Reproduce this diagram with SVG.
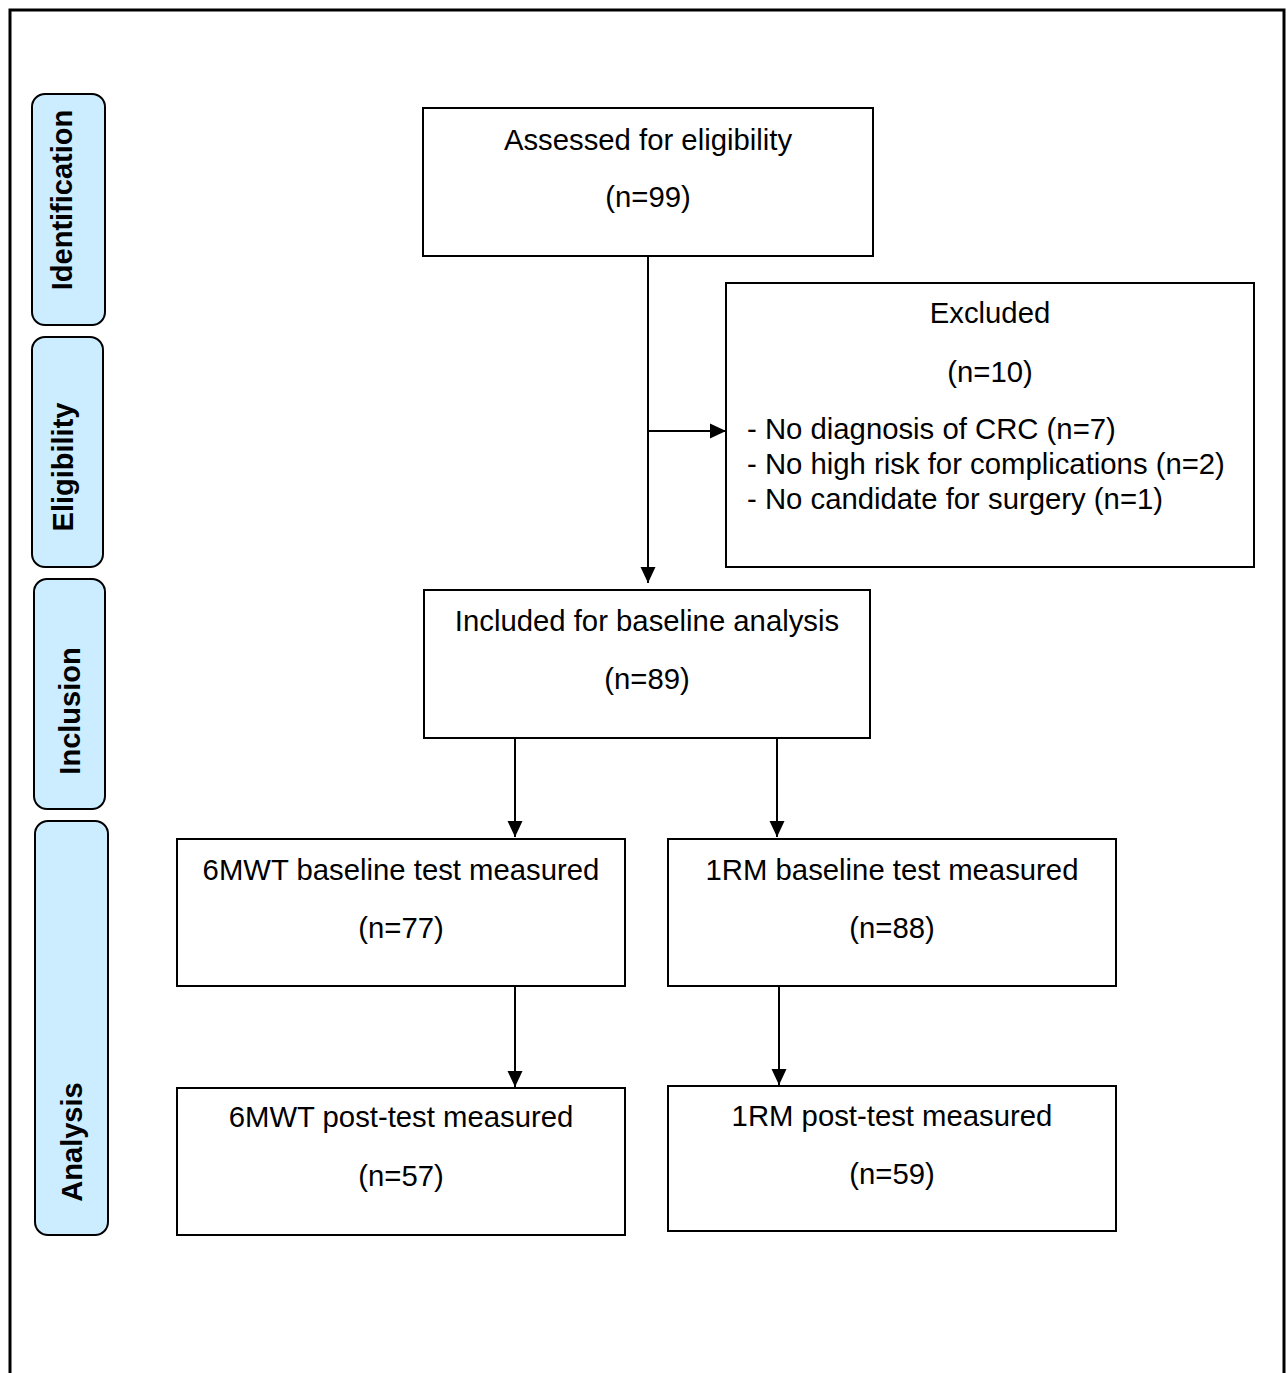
<svg xmlns="http://www.w3.org/2000/svg" width="1287" height="1373" viewBox="0 0 1287 1373">
<style>
.frame{fill:none;stroke:#000;stroke-width:3}
.box{fill:#fff;stroke:#000;stroke-width:2}
.side{fill:#CCECFF;stroke:#000;stroke-width:2}
.t{font-family:"Liberation Sans",Arial,sans-serif;font-size:29.3px;fill:#000}
.c{text-anchor:middle}
.s{font-family:"Liberation Sans",Arial,sans-serif;font-size:29px;font-weight:bold;fill:#000;text-anchor:middle}
.conn{fill:none;stroke:#000;stroke-width:2}
</style>
<defs>
<marker id="ah" markerUnits="userSpaceOnUse" markerWidth="16" markerHeight="16" viewBox="0 0 16 16" refX="16" refY="8" orient="auto">
<path d="M0,0.5 L16,8 L0,15.5 Z" fill="#000"/>
</marker>
</defs>
<rect width="1287" height="1373" fill="#fff"/>
<path class="frame" d="M10,1373 V10 H1284 V1373"/>

<g id="side-identification">
<rect class="side" x="32" y="94" width="73" height="231" rx="13"/>
<text class="s" transform="translate(72,200) rotate(-90)">Identification</text>
</g>
<g id="side-eligibility">
<rect class="side" x="32" y="337" width="71" height="230" rx="13"/>
<text class="s" transform="translate(73,467) rotate(-90)">Eligibility</text>
</g>
<g id="side-inclusion">
<rect class="side" x="34" y="579" width="71" height="230" rx="13"/>
<text class="s" transform="translate(80,711) rotate(-90)">Inclusion</text>
</g>
<g id="side-analysis">
<rect class="side" x="35" y="821" width="73" height="414" rx="13"/>
<text class="s" transform="translate(82,1142) rotate(-90)">Analysis</text>
</g>

<g id="assessed">
<rect class="box" x="423" y="108" width="450" height="148"/>
<text class="t c" x="648" y="150">Assessed for eligibility</text>
<text class="t c" x="648" y="207">(n=99)</text>
</g>
<g id="excluded">
<rect class="box" x="726" y="283" width="528" height="284"/>
<text class="t c" x="990" y="323">Excluded</text>
<text class="t c" x="990" y="382">(n=10)</text>
<text class="t" x="747" y="439">- No diagnosis of CRC (n=7)</text>
<text class="t" x="747" y="474">- No high risk for complications (n=2)</text>
<text class="t" x="747" y="509">- No candidate for surgery (n=1)</text>
</g>
<g id="included">
<rect class="box" x="424" y="590" width="446" height="148"/>
<text class="t c" x="647" y="631">Included for baseline analysis</text>
<text class="t c" x="647" y="689">(n=89)</text>
</g>
<g id="mwt-baseline">
<rect class="box" x="177" y="839" width="448" height="147"/>
<text class="t c" x="401" y="880">6MWT baseline test measured</text>
<text class="t c" x="401" y="938">(n=77)</text>
</g>
<g id="rm-baseline">
<rect class="box" x="668" y="839" width="448" height="147"/>
<text class="t c" x="892" y="880">1RM baseline test measured</text>
<text class="t c" x="892" y="938">(n=88)</text>
</g>
<g id="mwt-post">
<rect class="box" x="177" y="1088" width="448" height="147"/>
<text class="t c" x="401" y="1127">6MWT post-test measured</text>
<text class="t c" x="401" y="1186">(n=57)</text>
</g>
<g id="rm-post">
<rect class="box" x="668" y="1086" width="448" height="145"/>
<text class="t c" x="892" y="1126">1RM post-test measured</text>
<text class="t c" x="892" y="1184">(n=59)</text>
</g>

<g id="connectors">
<path class="conn" d="M648,256 V583" marker-end="url(#ah)"/>
<path class="conn" d="M648,431 H726" marker-end="url(#ah)"/>
<path class="conn" d="M515,738 V837" marker-end="url(#ah)"/>
<path class="conn" d="M777,738 V837" marker-end="url(#ah)"/>
<path class="conn" d="M515,986 V1087" marker-end="url(#ah)"/>
<path class="conn" d="M779,986 V1085" marker-end="url(#ah)"/>
</g>
</svg>
